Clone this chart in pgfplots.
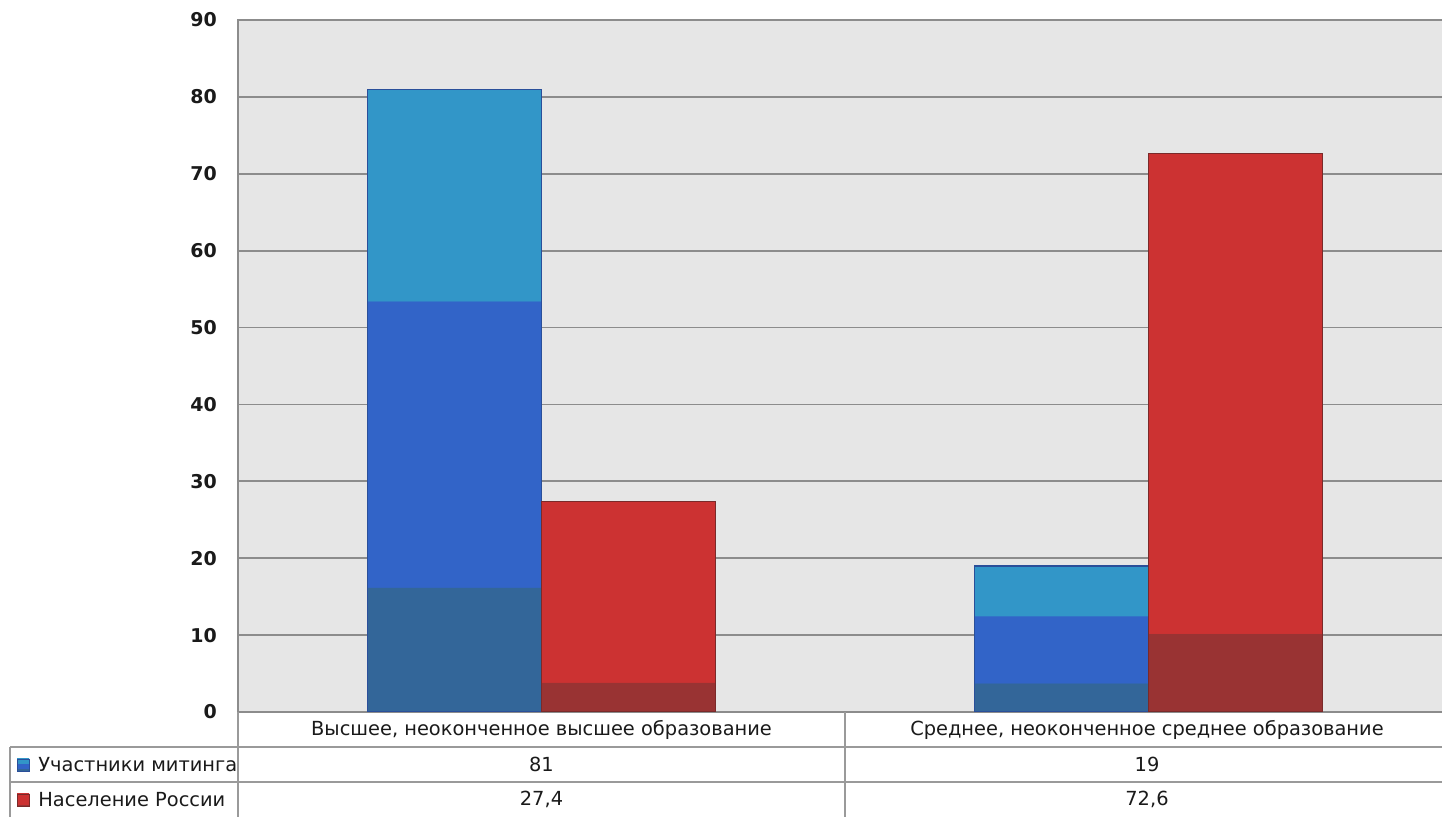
\documentclass[border=0pt]{standalone}
\usepackage{fontspec}
\setmainfont{DejaVu Sans}
\usepackage{pgfplots}
\pgfplotsset{compat=1.18}
\definecolor{bgc}{HTML}{E6E6E6}
\definecolor{gridc}{HTML}{8C8C8C}
\definecolor{tablec}{HTML}{9A9A9A}
\definecolor{bcyan}{HTML}{3296C8}
\definecolor{bmid}{HTML}{3264C8}
\definecolor{bdark}{HTML}{336699}
\definecolor{bedge}{HTML}{2A4F9A}
\definecolor{rmain}{HTML}{CC3232}
\definecolor{rdark}{HTML}{993333}
\definecolor{redge}{HTML}{7A2A2A}
\definecolor{txt}{HTML}{1A1A1A}
\pgfdeclareverticalshading{bluebar}{100bp}{color(0bp)=(bdark); color(35bp)=(bdark); color(35.01bp)=(bmid); color(58bp)=(bmid); color(58.01bp)=(bcyan); color(100bp)=(bcyan)}
\pgfdeclareverticalshading{redbar}{100bp}{color(0bp)=(rdark); color(32bp)=(rdark); color(32.01bp)=(rmain); color(100bp)=(rmain)}
\begin{document}
\begin{tikzpicture}[font=\fontsize{9.7}{12}\selectfont, text=txt]
\path[use as bounding box] (0,0) rectangle (721pt,408.5pt);
\begin{axis}[
  at={(119pt,52.5pt)}, anchor=south west,
  scale only axis, width=605pt, height=346pt,
  xmin=-0.5, xmax=1.4934, ymin=0, ymax=90,
  ytick={0,10,...,90},
  xtick=\empty,
  ymajorgrids, grid style={gridc, line width=0.9pt},
  axis line style={gridc, line width=0.8pt},
  axis background/.style={fill=bgc},
  major tick length=0pt,
  ybar, bar width=87pt,
  yticklabel style={font=\fontsize{9.5}{12}\selectfont\bfseries, text=txt, xshift=-7pt},
  /pgf/number format/assume math mode=true,
]
% Участники митинга
\addplot[bar shift=-43.5pt, shading=bluebar, draw=bedge, line width=0.6pt] coordinates {(0,81)};
\addplot[bar shift=-43.5pt, shading=bluebar, draw=bedge, line width=0.6pt] coordinates {(1,19)};
% Население России
\addplot[bar shift=43.5pt, shading=redbar, draw=redge, line width=0.6pt] coordinates {(0,27.4)};
\addplot[bar shift=43.5pt, shading=redbar, draw=redge, line width=0.6pt] coordinates {(1,72.6)};
\end{axis}
% data table
\draw[tablec, line width=0.8pt] (119pt,52.5pt) -- (119pt,0pt);
\draw[tablec, line width=0.8pt] (422.5pt,52.5pt) -- (422.5pt,0pt);
\draw[tablec, line width=0.8pt] (5pt,35pt) -- (5pt,0pt);
\draw[tablec, line width=0.8pt] (5pt,35pt) -- (721pt,35pt);
\draw[tablec, line width=0.8pt] (5pt,17.5pt) -- (721pt,17.5pt);
\node at (270.75pt,43.75pt) {Высшее, неоконченное высшее образование};
\node at (573.5pt,43.75pt) {Среднее, неоконченное среднее образование};
\node at (270.75pt,26.25pt) {81};
\node at (573.5pt,26.25pt) {19};
\node at (270.75pt,8.75pt) {27,4};
\node at (573.5pt,8.75pt) {72,6};
\shade[shading=bluebar, draw=bedge, line width=0.4pt] (8.5pt,23pt) rectangle (14.5pt,29pt);
\shade[shading=redbar, draw=redge, line width=0.4pt] (8.5pt,5.5pt) rectangle (14.5pt,11.5pt);
\node[anchor=west, inner sep=0pt] at (19pt,26.25pt) {Участники митинга};
\node[anchor=west, inner sep=0pt] at (19pt,8.75pt) {Население России};
\end{tikzpicture}
\end{document}
